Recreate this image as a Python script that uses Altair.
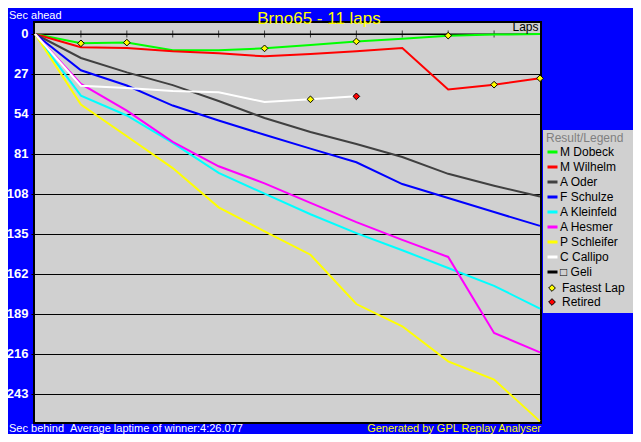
import altair as alt
import pandas as pd

# ---------------- data ----------------
laps = list(range(12))
drivers = ["M Dobeck", "M Wilhelm", "A Oder", "F Schulze", "A Kleinfeld",
           "A Hesmer", "P Schleifer", "C Callipo", "□ Geli"]
colors = ["#00FF00", "#FF0000", "#404040", "#0000FF", "#00FFFF",
          "#FF00FF", "#FFFF00", "#FFFFFF", "#000000"]

dobeck = [0, 6.3, 5.8, 11.0, 11.0, 9.7, 7.4, 5.0, 3.2, 1.1, 0.4, 0.0]
wilhelm = [0, 9.0, 9.5, 11.6, 13.0, 15.1, 13.5, 11.7, 9.5, 37.4, 34.2, 29.9]
oder = [0, 16.2, 25.9, 34.5, 45.2, 56.7, 66.2, 74.2, 83.0, 94.4, 102.4, 109.7]
schulze = [0, 24.5, 34.8, 48.3, 58.4, 68.0, 77.4, 86.6, 101.3, 110.7, 120.2, 129.5]
kleinfeld = [0, 41.6, 55.0, 73.5, 93.8, 107.8, 121.7, 134.4, 146.0, 158.0, 170.0, 185.4]
hesmer = [0, 33.7, 51.7, 72.8, 89.3, 100.8, 114.0, 127.0, 139.0, 150.5, 201.8, 214.9]
schleifer = [0, 47.7, 69.0, 90.5, 117.0, 133.3, 149.0, 182.3, 197.3, 221.0, 233.3, 261.5]
callipo = [0, 34.9, 36.5, 38.4, 39.4, 45.9, 44.1, 42.1]
geli = []

series = [dobeck, wilhelm, oder, schulze, kleinfeld, hesmer, schleifer, callipo, geli]

fastest_driver = ["M Dobeck", "M Dobeck", "M Dobeck", "M Dobeck", "M Dobeck",
                  "C Callipo", "M Wilhelm", "M Wilhelm"]
fastest_lap = [1, 2, 5, 7, 9, 6, 10, 11]
retired_driver = ["C Callipo"]
retired_lap = [7]

y_ticks = [0, 27, 54, 81, 108, 135, 162, 189, 216, 243]
lap_ticks = [1, 2, 3, 4, 5, 6, 7, 8, 9, 10]

title_text = "Brno65 - 11 laps"
avg_text = "Average laptime of winner:4:26.077"
gen_text = "Generated by GPL Replay Analyser"

# ---------------- tables ----------------
rows = []
for name, vals in zip(drivers, series):
    for lap, v in zip(laps, vals):
        rows.append({"driver": name, "lap": lap, "sec": v})
lines_df = pd.DataFrame(rows)

lookup = {n: s for n, s in zip(drivers, series)}
pts = []
for d, l in zip(fastest_driver, fastest_lap):
    pts.append({"type": "Fastest Lap", "lap": l, "sec": lookup[d][l]})
for d, l in zip(retired_driver, retired_lap):
    pts.append({"type": "Retired", "lap": l, "sec": lookup[d][l]})
pts_df = pd.DataFrame(pts)

ticks_df = pd.DataFrame({"lap": lap_ticks, "sec": [0] * len(lap_ticks)})
zero_df = pd.DataFrame({"lap": [0], "lap2": [11], "sec": [0]})
one = pd.DataFrame({"k": [0]})

FONT = "Liberation Sans"

xs = alt.Scale(domain=[-0.022, 11.022], nice=False, zero=False)
ys = alt.Scale(domain=[-8.1, 262.6], reverse=True, nice=False, zero=False)

X = alt.X("lap:Q", scale=xs, axis=None)
Y = alt.Y("sec:Q", scale=ys, axis=alt.Axis(
    values=y_ticks, title=None, labelColor="white", labelFont=FONT,
    labelFontWeight="bold", labelFontSize=13, labelPadding=3,
    grid=True, gridColor="black", gridWidth=1, gridOpacity=1,
    tickColor="black", tickSize=3, tickWidth=1, domain=False))

# legend background box
legend_bg = alt.Chart(one).mark_rect(color="#D0D0D0").encode(
    x=alt.value(509), x2=alt.value(604), y=alt.value(108), y2=alt.value(291))

zero_rule = alt.Chart(zero_df).mark_rule(color="black", strokeWidth=1).encode(
    x=X, x2="lap2:Q", y=Y)

lap_tick_marks = alt.Chart(ticks_df).mark_tick(
    orient="vertical", size=7, thickness=1, color="black").encode(x=X, y=Y)

lines = alt.Chart(lines_df).mark_line(strokeWidth=2, interpolate="linear").encode(
    x=X, y=Y,
    color=alt.Color("driver:N",
                    scale=alt.Scale(domain=drivers, range=colors),
                    legend=alt.Legend(
                        orient="none", legendX=512, legendY=110.5,
                        title="Result/Legend", titleColor="#808080",
                        titleFont=FONT, titleFontSize=12, titleFontWeight="normal",
                        titlePadding=1, titleAnchor="start",
                        labelFont=FONT, labelFontSize=12, labelColor="black",
                        symbolType="stroke", symbolSize=100, symbolStrokeWidth=3,
                        labelOffset=1, rowPadding=2, padding=0)),
    order="lap:Q")

points = alt.Chart(pts_df).mark_point(
    shape="diamond", filled=True, size=45, stroke="black", strokeWidth=1, opacity=1
).encode(
    x=X, y=Y,
    fill=alt.Fill("type:N",
                  scale=alt.Scale(domain=["Fastest Lap", "Retired"],
                                  range=["#FFFF00", "#FF0000"]),
                  legend=alt.Legend(
                      orient="none", legendX=512, legendY=260, title=None,
                      labelFont=FONT, labelFontSize=12, labelColor="black",
                      symbolType="diamond", symbolSize=45,
                      symbolStrokeColor="black", symbolStrokeWidth=1,
                      symbolOpacity=1,
                      labelOffset=4, rowPadding=2, padding=0)))

def txt(text, x, y, color="white", size=11, align="left", baseline="alphabetic"):
    return alt.Chart(one).mark_text(
        text=text, color=color, fontSize=size, font=FONT,
        align=align, baseline=baseline).encode(x=alt.value(x), y=alt.value(y))

texts = [
    txt(title_text, 285, 1.5, color="#FFFF00", size=17, align="center"),
    txt("Sec ahead", -25, -2.7),
    txt("Sec behind", -25, 410),
    txt(avg_text, 36, 410),
    txt(gen_text, 507, 410, color="#FFFF00", align="right"),
    txt("Laps", 504.5, 9, color="black", size=12, align="right"),
]

chart = alt.layer(
    legend_bg, zero_rule, lap_tick_marks, lines, points, *texts
).properties(
    width=507, height=401,
    autosize=alt.AutoSizeParams(type="none"),
    padding={"left": 26, "top": 14, "right": 92, "bottom": 11},
    background="#0000FF",
).configure_view(
    fill="#D0D0D0", stroke="black", strokeWidth=2
)

chart.save("out.html", embed_options={"renderer": "svg", "actions": False})
